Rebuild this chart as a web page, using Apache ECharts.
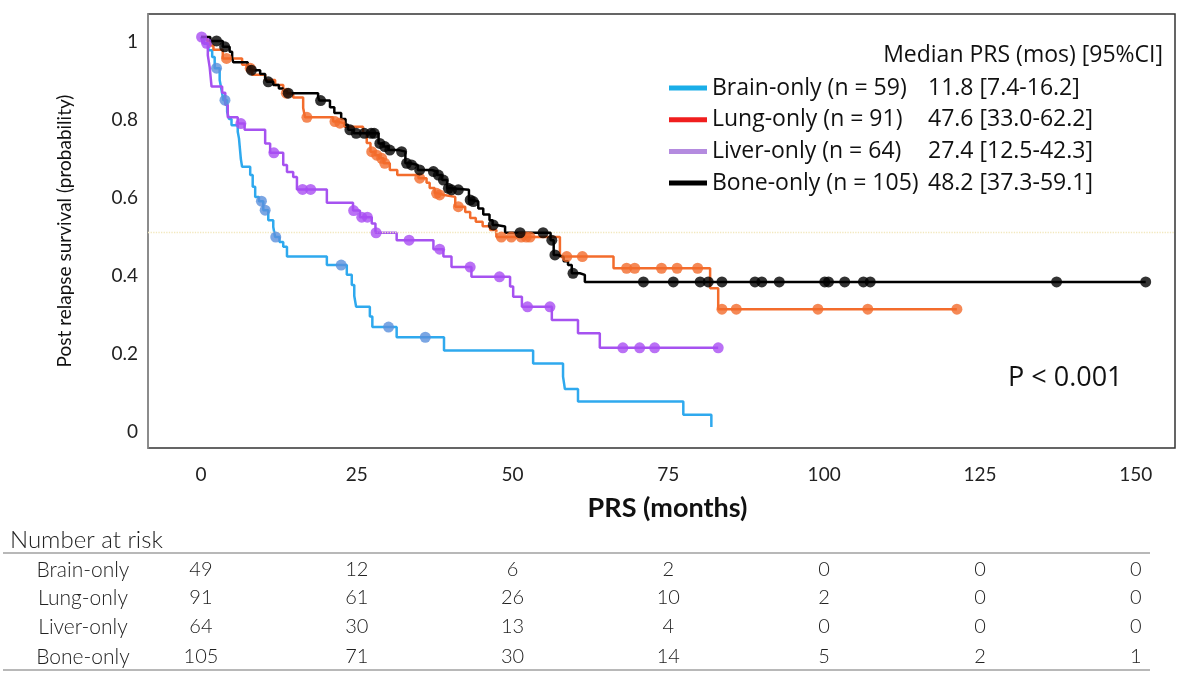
<!DOCTYPE html>
<html><head><meta charset="utf-8">
<script src="https://cdn.jsdelivr.net/npm/echarts@6/dist/echarts.min.js"></script>
<style>html,body{margin:0;padding:0;background:#fff}#main{width:1200px;height:679px}</style>
</head><body><div id="main"></div>
<script>
// ---------- DATA ----------
const groupNames = ['Brain-only', 'Lung-only', 'Liver-only', 'Bone-only'];
const groupN = [59, 91, 64, 105];
const groupMedian = ['11.8 [7.4-16.2]', '47.6 [33.0-62.2]', '27.4 [12.5-42.3]', '48.2 [37.3-59.1]'];

// Kaplan-Meier steps: [month, survival after the drop]
const brainSteps = [[0,1],[0.5,0.983],[1.2,0.966],[1.8,0.949],[2.2,0.92],[3.0,0.89],[3.3,0.864],[3.6,0.838],[4.2,0.808],[4.5,0.79],[4.9,0.774],[5.9,0.757],[6.1,0.74],[6.2,0.722],[6.3,0.705],[6.4,0.687],[6.6,0.667],[7.9,0.646],[8.3,0.616],[8.7,0.59],[9.3,0.579],[10.0,0.556],[10.8,0.53],[11.6,0.513],[11.9,0.487],[12.6,0.474],[13.2,0.462],[13.8,0.437],[20.2,0.415],[23.4,0.39],[24.2,0.364],[24.6,0.336],[24.9,0.308],[27.1,0.283],[27.5,0.256],[31.4,0.23],[39.0,0.196],[53.3,0.163],[58.1,0.129],[58.4,0.097],[60.5,0.065],[77.4,0.031],[81.9,0]];
const brainCensor = [2.5, 3.85, 9.7, 10.3, 12.0, 22.5, 30.1, 36.0];

const lungSteps = [[0,1],[1.0,0.989],[1.5,0.978],[2.0,0.967],[3.5,0.945],[6.6,0.929],[7.4,0.92],[8.2,0.903],[10.3,0.89],[11.9,0.877],[13.2,0.864],[13.5,0.856],[14.8,0.845],[16.4,0.818],[16.7,0.794],[21.2,0.783],[22.0,0.779],[23.0,0.77],[26.0,0.754],[26.6,0.728],[27.2,0.706],[27.9,0.697],[28.6,0.689],[29.3,0.676],[30.3,0.659],[31.5,0.646],[34.9,0.638],[36.2,0.626],[36.7,0.613],[37.5,0.599],[38.1,0.595],[39.0,0.59],[40.8,0.565],[42.4,0.551],[43.2,0.536],[44.1,0.526],[45.2,0.515],[46.4,0.505],[47.4,0.487],[57.6,0.437],[66.2,0.407],[81.7,0.356],[83.0,0.302]];
const lungCensor = [4.1, 7.9, 13.7, 17.0, 21.5, 22.3, 27.4, 28.2, 29.0, 29.5, 35.1, 37.8, 38.3, 41.3, 48.2, 49.8, 51.4, 52.2, 52.8, 58.7, 61.2, 68.3, 69.6, 73.9, 76.4, 79.7, 83.6, 85.9, 99.0, 107.0, 121.3];

const liverSteps = [[0,1],[0.3,0.984],[1.1,0.953],[1.4,0.922],[1.7,0.873],[3.4,0.857],[3.9,0.826],[4.3,0.794],[5.9,0.778],[7.0,0.762],[10.3,0.727],[11.1,0.703],[13.2,0.672],[13.8,0.654],[14.8,0.641],[15.4,0.609],[20.2,0.575],[24.4,0.555],[25.5,0.538],[27.4,0.522],[28.0,0.498],[31.4,0.479],[37.3,0.456],[38.9,0.437],[40.2,0.41],[43.4,0.385],[49.6,0.36],[50.1,0.334],[51.5,0.308],[56.3,0.274],[60.5,0.24],[64.0,0.203]];
const liverCensor = [0.1, 0.9, 6.4, 11.7, 16.3, 17.6, 24.5, 25.8, 26.7, 28.1, 33.4, 38.3, 43.2, 47.9, 52.4, 56.0, 67.7, 70.4, 72.8, 83.0];

const boneSteps = [[0,1],[1.5,0.99],[3.5,0.975],[4.6,0.962],[5.0,0.945],[5.2,0.935],[7.5,0.925],[7.9,0.915],[9.5,0.905],[10.3,0.895],[10.6,0.885],[11.6,0.877],[12.5,0.868],[13.2,0.862],[13.8,0.856],[18.8,0.846],[19.0,0.837],[20.7,0.82],[21.4,0.805],[22.5,0.79],[23.2,0.775],[23.6,0.762],[24.5,0.753],[28.5,0.727],[29.3,0.719],[30.1,0.71],[31.8,0.706],[32.8,0.676],[33.6,0.672],[34.8,0.659],[37.0,0.655],[37.9,0.646],[38.7,0.633],[39.5,0.612],[40.0,0.608],[43.0,0.582],[43.5,0.578],[44.5,0.56],[45.3,0.545],[46.3,0.53],[46.8,0.518],[47.4,0.514],[48.8,0.498],[56.1,0.479],[56.6,0.441],[57.3,0.436],[58.2,0.425],[58.9,0.415],[59.5,0.394],[60.8,0.39],[61.6,0.372]];
const boneCensor = [2.5, 3.8, 8.1, 10.8, 14.0, 19.2, 23.9, 24.9, 26.2, 27.3, 27.8, 28.7, 29.5, 30.3, 32.2, 33.0, 33.8, 35.1, 37.3, 38.1, 38.9, 39.7, 40.2, 41.3, 43.2, 43.7, 46.9, 51.2, 54.9, 56.3, 56.8, 59.7, 71.0, 75.8, 80.1, 81.4, 83.6, 88.9, 90.0, 92.8, 100.1, 100.7, 103.3, 106.3, 107.4, 137.3, 151.6];

const xTicks = [0, 25, 50, 75, 100, 125, 150];
const yTicks = [0, 0.2, 0.4, 0.6, 0.8, 1];

const riskTimes = [0, 25, 50, 75, 100, 125, 150];
const riskBrain = [49, 12, 6, 2, 0, 0, 0];
const riskLung = [91, 61, 26, 10, 2, 0, 0];
const riskLiver = [64, 30, 13, 4, 0, 0, 0];
const riskBone = [105, 71, 30, 14, 5, 2, 1];

// ---------- STYLE ----------
const lineColors = ['#2FA9EE', '#F36C2C', '#A652F0', '#000000'];
const censorColors = ['#5A90DC', '#F36C2C', '#A94EF2', '#000000'];
const legendColors = ['#1AAEE8', '#F01E1E', '#B48BDF', '#000000'];
const FONT = 'Lato';
const LFONT = '"Open Sans"';
const LSIZE = 23;

const allSteps = [brainSteps, lungSteps, liverSteps, boneSteps];
const allCensor = [brainCensor, lungCensor, liverCensor, boneCensor];
const allRisk = [riskBrain, riskLung, riskLiver, riskBone];

function stepAt(steps, t) {
  let p = steps[0][1];
  for (const s of steps) { if (s[0] <= t) p = s[1]; }
  return p;
}

const series = [];
groupNames.forEach((name, i) => {
  const steps = allSteps[i];
  const cens = allCensor[i];
  const last = steps[steps.length - 1];
  const endT = Math.max(last[0], Math.max.apply(null, cens));
  const lineData = steps.slice();
  if (endT > last[0]) lineData.push([endT, last[1]]);
  const lineSeries = {
    name: name, type: 'line', step: 'end', data: lineData,
    showSymbol: false, symbol: 'none', animation: false,
    lineStyle: { color: lineColors[i], width: 2.5 },
    itemStyle: { color: legendColors[i] },
    z: 2 + i
  };
  if (i === 0) {
    lineSeries.markLine = {
      silent: true, symbol: ['none', 'none'], animation: false,
      label: { show: false },
      lineStyle: { type: 'dotted', color: '#F2E8BE', width: 1.3 },
      data: [{ yAxis: 0.5 }]
    };
  }
  series.push(lineSeries);
  series.push({
    name: name, type: 'scatter', animation: false,
    data: cens.map(t => [t, stepAt(steps, t)]),
    symbol: 'circle', symbolSize: 11,
    itemStyle: { color: censorColors[i] },
    z: 10 + i
  });
});

// legend text measurement for tab-like alignment
const ctx = document.createElement('canvas').getContext('2d');
ctx.font = LSIZE + 'px "Open Sans"';
const TAB = 216;
const legendRich = { b: { fontSize: LSIZE, fontFamily: LFONT, color: '#111' } };
const legendMap = {};
groupNames.forEach((name, i) => {
  const first = name + ' (n = ' + groupN[i] + ')';
  const w = ctx.measureText(first).width;
  const key = 'a' + i;
  legendRich[key] = { fontSize: LSIZE, fontFamily: LFONT, color: '#111', width: Math.max(TAB, w + 5) };
  legendMap[name] = '{' + key + '|' + first + '}{b|' + groupMedian[i] + '}';
});

const chart = echarts.init(document.getElementById('main'));
chart.setOption({
  backgroundColor: '#ffffff',
  animation: false,
  grid: { left: 148, right: 25, top: 14, bottom: 231, show: true, borderColor: '#333333', borderWidth: 1.5, backgroundColor: 'transparent' },
  xAxis: {
    type: 'value', min: -8.5, max: 156.3,
    name: 'PRS (months)', nameLocation: 'middle', nameGap: 47,
    nameTextStyle: { fontSize: 27, fontWeight: 'bold', fontFamily: FONT, color: '#111', padding: [0, 0, 0, 12] },
    axisLine: { show: false }, axisTick: { show: false }, splitLine: { show: false },
    axisLabel: { customValues: xTicks, fontSize: 19, fontFamily: FONT, color: '#222', margin: 17 }
  },
  yAxis: {
    type: 'value', min: -0.054, max: 1.059,
    name: 'Post relapse survival (probability)', nameLocation: 'middle', nameGap: 74, nameRotate: 90,
    nameTextStyle: { fontSize: 19, fontFamily: FONT, color: '#111' },
    axisLine: { show: true, onZero: false, lineStyle: { color: '#9a9a9a', width: 1.5 } },
    axisTick: { show: false }, splitLine: { show: false },
    axisLabel: {
      customValues: yTicks, margin: 10,
      formatter: function (v) { return '{a|' + v + '}'; },
      rich: { a: { fontSize: 19, fontFamily: FONT, color: '#222', padding: [9, 0, 0, 0] } }
    }
  },
  legend: {
    show: true, orient: 'vertical', left: 669, top: 75, padding: 0,
    selectedMode: false, icon: 'rect', itemWidth: 38, itemHeight: 5, itemGap: 5.7,
    textStyle: { fontSize: LSIZE, fontFamily: LFONT, color: '#111', lineHeight: 26, rich: legendRich },
    formatter: function (name) { return legendMap[name]; },
    data: groupNames.map((n, i) => ({ name: n, icon: 'rect', itemStyle: { color: legendColors[i] } }))
  },
  series: series
});

// graphic texts and at-risk table
const g = [];
g.push({ type: 'text', x: 1163, y: 55, style: { text: 'Median PRS (mos) [95%CI]', font: LSIZE + 'px "Open Sans"', fill: '#111', textAlign: 'right', textVerticalAlign: 'middle' } });
g.push({ type: 'text', x: 1008, y: 378, style: { text: 'P < 0.001', font: '27px "Open Sans"', fill: '#111', textAlign: 'left', textVerticalAlign: 'middle' } });
g.push({ type: 'text', x: 10, y: 540, style: { text: 'Number at risk', font: '300 24px Lato', fill: '#222', textAlign: 'left', textVerticalAlign: 'middle' } });
g.push({ type: 'line', shape: { x1: 3, y1: 553, x2: 1150, y2: 553 }, style: { stroke: '#a0a0a0', lineWidth: 1.5 } });
g.push({ type: 'line', shape: { x1: 3, y1: 670, x2: 1150, y2: 670 }, style: { stroke: '#a0a0a0', lineWidth: 1.5 } });
const rowY = [570, 598, 627, 657];
groupNames.forEach((name, i) => {
  g.push({ type: 'text', x: 83, y: rowY[i], style: { text: name, font: '300 21px Lato', fill: '#222', textAlign: 'center', textVerticalAlign: 'middle' } });
  riskTimes.forEach((t, j) => {
    const px = chart.convertToPixel({ xAxisIndex: 0 }, t);
    g.push({ type: 'text', x: px, y: rowY[i], style: { text: String(allRisk[i][j]), font: '300 20px Lato', fill: '#222', textAlign: 'center', textVerticalAlign: 'middle' } });
  });
});
chart.setOption({ graphic: g });
</script></body></html>
